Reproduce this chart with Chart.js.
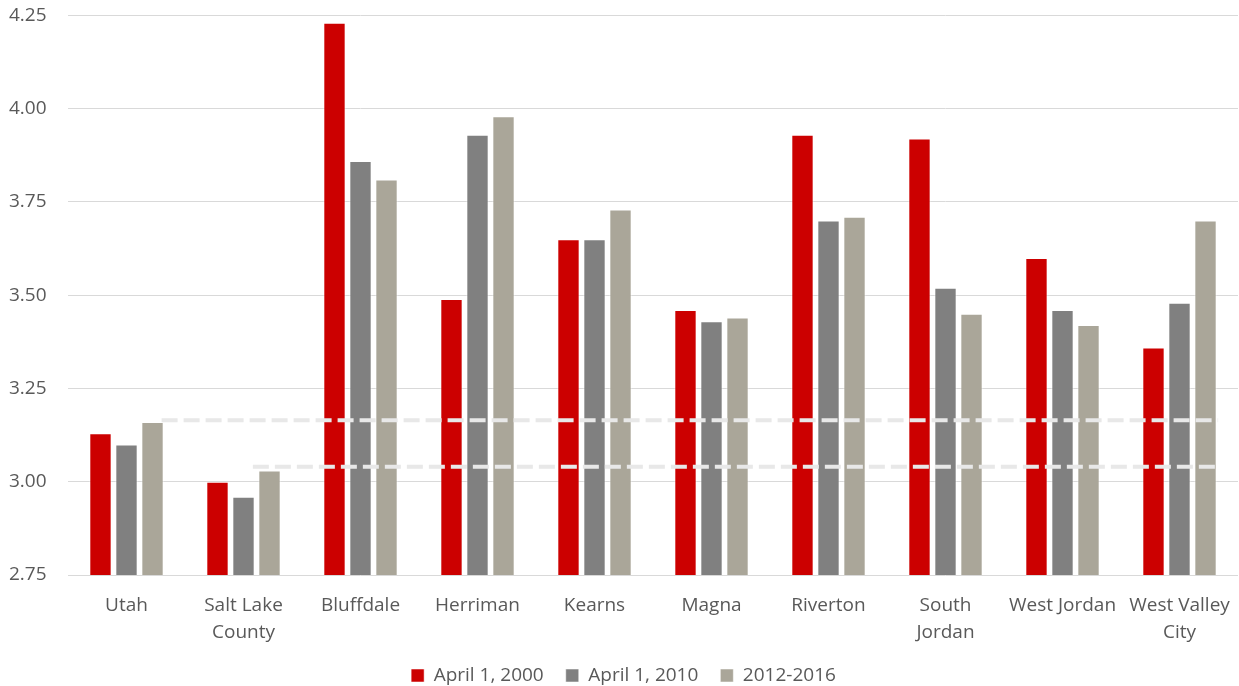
<!DOCTYPE html>
<html lang="en">
<head>
    <meta charset="UTF-8">
    <title>Persons per household</title>
    <script src="https://cdn.jsdelivr.net/npm/chart.js"></script>
    <style>
        html, body { margin: 0; padding: 0; background: #fff; overflow: hidden; }
        #chart { position: absolute; left: 0; top: 0; }
    </style>
</head>
<body>
<canvas id="chart" width="1239" height="686"></canvas>

<script>
    const places = ['Utah', ['Salt Lake', 'County'], 'Bluffdale', 'Herriman', 'Kearns', 'Magna',
        'Riverton', ['South', 'Jordan'], 'West Jordan', ['West Valley', 'City']];
    const seriesNames = ['April 1, 2000', 'April 1, 2010', '2012-2016'];
    const april2000 = [3.13, 3.00, 4.23, 3.49, 3.65, 3.46, 3.93, 3.92, 3.60, 3.36];
    const april2010 = [3.10, 2.96, 3.86, 3.93, 3.65, 3.43, 3.70, 3.52, 3.46, 3.48];
    const acs1216 = [3.16, 3.03, 3.81, 3.98, 3.73, 3.44, 3.71, 3.45, 3.42, 3.70];
    const colors = ['#CC0000', '#808080', '#AAA699'];

    // reference lines (Utah and Salt Lake County), start/end given as category index
    const refValues = [3.165, 3.04];
    const refStart = [0.3, 1.08];
    const refEnd = 9.33;

    const textColor = '#595959';
    const font = { family: 'Open Sans', size: 19 };

    // dashed reference lines drawn over the bars through the x / y scales
    const refLinePlugin = {
        id: 'refLines',
        afterDatasetsDraw(chart) {
            const ctx = chart.ctx;
            const xs = chart.scales.x;
            const ys = chart.scales.y;
            ctx.save();
            ctx.strokeStyle = '#E8E8E8';
            ctx.lineWidth = 4;
            ctx.setLineDash([16, 6]);
            refValues.forEach((v, i) => {
                const y = ys.getPixelForValue(v);
                ctx.beginPath();
                ctx.moveTo(xs.getPixelForValue(refStart[i]), y);
                ctx.lineTo(xs.getPixelForValue(refEnd), y);
                ctx.stroke();
            });
            ctx.restore();
        }
    };

    const bars = [april2000, april2010, acs1216].map((d, i) => ({
        label: seriesNames[i],
        data: d,
        backgroundColor: colors[i],
        borderColor: 'rgba(255,255,255,0.5)',
        borderWidth: 1
    }));

    new Chart(document.getElementById('chart'), {
        type: 'bar',
        data: {
            labels: places,
            datasets: bars
        },
        options: {
            responsive: false,
            animation: false,
            layout: { padding: { left: 9, right: 1, top: 0, bottom: -9 } },
            datasets: {
                bar: { categoryPercentage: 0.667, barPercentage: 0.86 }
            },
            scales: {
                x: {
                    grid: { display: false },
                    border: { display: false },
                    ticks: { color: textColor, font: { ...font, lineHeight: 1.42 }, padding: 9, maxRotation: 0, autoSkip: false },
                    afterFit: s => { s.height = 69; }
                },
                y: {
                    min: 2.75,
                    max: 4.25,
                    border: { display: false },
                    grid: { color: '#D9D9D9', drawTicks: false },
                    ticks: {
                        stepSize: 0.25,
                        color: textColor,
                        font: font,
                        padding: 4,
                        crossAlign: 'far',
                        callback: v => v.toFixed(2)
                    },
                    afterFit: s => { s.width = 59; }
                }
            },
            plugins: {
                legend: {
                    position: 'bottom',
                    labels: {
                        color: textColor,
                        font: font,
                        boxWidth: 13,
                        boxHeight: 13,
                        padding: 22
                    }
                },
                tooltip: { enabled: false }
            }
        },
        plugins: [refLinePlugin]
    });
</script>
</body>
</html>
